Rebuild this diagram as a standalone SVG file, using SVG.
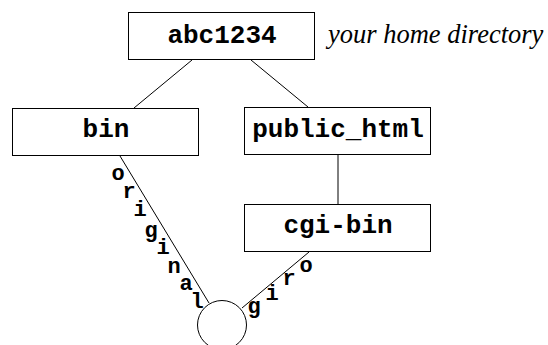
<svg xmlns="http://www.w3.org/2000/svg" width="548" height="345" viewBox="0 0 548 345">
<style>
.box{fill:#fff;stroke:#000;stroke-width:1}
.lbl{font-family:"Liberation Mono","Courier New",monospace;font-weight:bold;font-size:26px;text-anchor:middle;fill:#000}
.ch{font-family:"Liberation Mono","Courier New",monospace;font-weight:bold;font-size:22px;text-anchor:middle;fill:#000}
.note{font-family:"Liberation Serif","Times New Roman",serif;font-style:italic;font-size:26.5px;fill:#000}
.edge{stroke:#000;stroke-width:1;fill:none}
</style>
<rect width="548" height="345" fill="#fff"/>
<g id="connectors">
<line class="edge" x1="192" y1="60" x2="134" y2="108"/>
<line class="edge" x1="251" y1="60" x2="308" y2="107"/>
<line class="edge" x1="338" y1="155" x2="338" y2="204"/>
<line class="edge" x1="120" y1="156" x2="209" y2="303"/>
<line class="edge" x1="309" y1="252" x2="242" y2="308"/>
</g>
<g id="abc1234">
<rect class="box" x="128.5" y="12.5" width="186" height="47"/>
<text class="lbl" x="222" y="43">abc1234</text>
</g>
<text class="note" x="328" y="43">your home directory</text>
<g id="bin">
<rect class="box" x="12.5" y="108.5" width="186" height="47"/>
<text class="lbl" x="106" y="137">bin</text>
</g>
<g id="public_html">
<rect class="box" x="244.5" y="107.5" width="186" height="47"/>
<text class="lbl" x="338" y="137">public_html</text>
</g>
<g id="cgi-bin">
<rect class="box" x="244.5" y="204.5" width="186" height="47"/>
<text class="lbl" x="338" y="233">cgi-bin</text>
</g>
<g id="circle">
<circle class="box" cx="222" cy="325" r="24.5"/>
</g>
<g id="original">
<text class="ch" x="118" y="180">o</text>
<text class="ch" x="129" y="198">r</text>
<text class="ch" x="140" y="216">i</text>
<text class="ch" x="151" y="237">g</text>
<text class="ch" x="163" y="254">i</text>
<text class="ch" x="174" y="273">n</text>
<text class="ch" x="186" y="290">a</text>
<text class="ch" x="197" y="308">l</text>
</g>
<g id="giro">
<text class="ch" x="254" y="313">g</text>
<text class="ch" x="272" y="300">i</text>
<text class="ch" x="289" y="285">r</text>
<text class="ch" x="306" y="272">o</text>
</g>
</svg>
